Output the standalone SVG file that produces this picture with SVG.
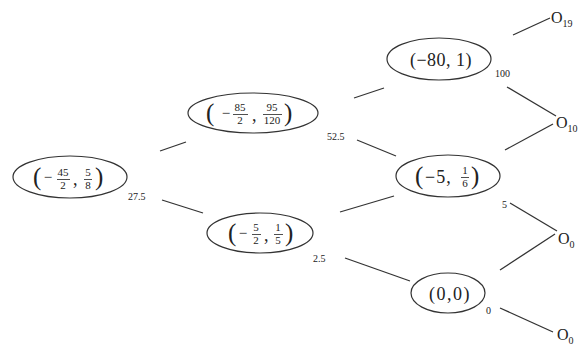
<svg xmlns="http://www.w3.org/2000/svg" width="582" height="345" viewBox="0 0 582 345">
<style>
text{font-family:"Liberation Serif","DejaVu Serif",serif;fill:#222}
.el{fill:none;stroke:#333;stroke-width:1.2}
.par{font-size:25px}
.t{font-size:18px}
.f{font-size:11px;text-anchor:middle}
.m{font-size:15px;text-anchor:middle}
.bar{stroke:#222;stroke-width:0.8}
.lbl{font-size:10px}
.sub{font-size:10px}
.o{font-size:16px}
#edges line{stroke:#333;stroke-width:1.3}
</style>
<rect width="582" height="345" fill="#fff"/>
<g id="edges">
<line x1="160" y1="151" x2="186" y2="142"/>
<line x1="162" y1="200" x2="203" y2="213"/>
<line x1="354" y1="98" x2="384" y2="88"/>
<line x1="357" y1="140" x2="396" y2="156"/>
<line x1="340" y1="212" x2="394" y2="196"/>
<line x1="345" y1="258" x2="410" y2="281"/>
<line x1="513" y1="35" x2="550" y2="18"/>
<line x1="507" y1="87" x2="556" y2="116"/>
<line x1="505" y1="150" x2="553" y2="124"/>
<line x1="510" y1="203" x2="557" y2="231"/>
<line x1="500" y1="270" x2="555" y2="234"/>
<line x1="500" y1="308" x2="553" y2="332"/>
</g>
<g id="edge-labels">
<text class="lbl" x="128" y="200">27.5</text>
<text class="lbl" x="327" y="140">52.5</text>
<text class="lbl" x="313" y="262">2.5</text>
<text class="lbl" x="495" y="77">100</text>
<text class="lbl" x="502" y="208">5</text>
<text class="lbl" x="486" y="314">0</text>
</g>
<g id="nA">
<ellipse class="el" cx="70" cy="177" rx="57" ry="21"/>
<text class="par" x="33" y="185">(</text>
<text class="m" x="48" y="182">−</text>
<text class="f" x="63" y="176">45</text>
<line class="bar" x1="57" y1="179.5" x2="70" y2="179.5"/>
<text class="f" x="63" y="189">2</text>
<text class="t" x="73" y="185">,</text>
<text class="f" x="88" y="176">5</text>
<line class="bar" x1="84" y1="179.5" x2="92" y2="179.5"/>
<text class="f" x="88" y="189">8</text>
<text class="par" x="95" y="185">)</text>
</g>
<g id="nB">
<ellipse class="el" cx="253" cy="113" rx="65" ry="20"/>
<text class="par" x="206" y="121">(</text>
<text class="m" x="226" y="118">−</text>
<text class="f" x="240" y="111">85</text>
<line class="bar" x1="233" y1="114.5" x2="248" y2="114.5"/>
<text class="f" x="240" y="124">2</text>
<text class="t" x="252" y="121">,</text>
<text class="f" x="272" y="111">95</text>
<line class="bar" x1="263" y1="114.5" x2="282" y2="114.5"/>
<text class="f" x="272" y="124">120</text>
<text class="par" x="284" y="121">)</text>
</g>
<g id="nC">
<ellipse class="el" cx="260" cy="233" rx="53" ry="20"/>
<text class="par" x="228" y="241">(</text>
<text class="m" x="243" y="238">−</text>
<text class="f" x="256" y="231">5</text>
<line class="bar" x1="252" y1="234.5" x2="261" y2="234.5"/>
<text class="f" x="256" y="244">2</text>
<text class="t" x="264" y="241">,</text>
<text class="f" x="278" y="231">1</text>
<line class="bar" x1="274" y1="234.5" x2="283" y2="234.5"/>
<text class="f" x="278" y="244">5</text>
<text class="par" x="285" y="241">)</text>
</g>
<g id="nD">
<ellipse class="el" cx="439" cy="59" rx="52" ry="21"/>
<text class="t" x="441" y="66" text-anchor="middle" letter-spacing="0.5">(−80, 1)</text>
</g>
<g id="nE">
<ellipse class="el" cx="448" cy="176" rx="52" ry="21"/>
<text class="par" x="415" y="184">(</text>
<text class="t" x="425" y="183" letter-spacing="1">−5,</text>
<text class="f" x="465" y="174">1</text>
<line class="bar" x1="461" y1="177.5" x2="469" y2="177.5"/>
<text class="f" x="465" y="187">6</text>
<text class="par" x="471" y="184">)</text>
</g>
<g id="nF">
<ellipse class="el" cx="448" cy="293" rx="37" ry="20"/>
<text class="t" x="450" y="300" text-anchor="middle" letter-spacing="1.5">(0,0)</text>
</g>
<g id="t1"><text class="o" x="551" y="23">O<tspan class="sub" dy="4">19</tspan></text></g>
<g id="t2"><text class="o" x="556" y="128">O<tspan class="sub" dy="4">10</tspan></text></g>
<g id="t3"><text class="o" x="558" y="244">O<tspan class="sub" dy="4">0</tspan></text></g>
<g id="t4"><text class="o" x="557" y="340">O<tspan class="sub" dy="4">0</tspan></text></g>
</svg>
